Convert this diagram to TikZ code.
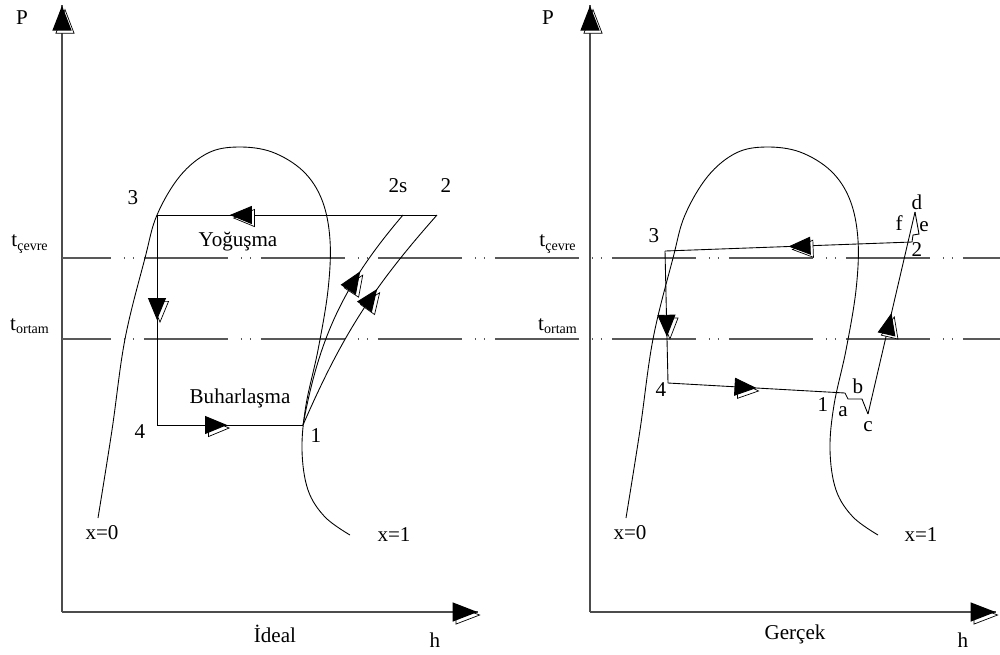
\documentclass[tikz,border=0pt]{standalone}
\usepackage{fontspec}
\setmainfont{Liberation Serif}
\usetikzlibrary{arrows.meta,decorations.markings}
\tikzset{
  tipmark/.style 2 args={
    postaction={decorate, decoration={markings,
      mark=at position #1 with {\begin{scope}[transform canvas={shift={(3,3)}}]
        \arrow{Triangle[open, color=black, fill=white, line width=0.4pt, #2]}\end{scope}}}},
    postaction={decorate, decoration={markings,
      mark=at position #1 with {\arrow{Triangle[color=black, #2]}}}}},
  flowtip/.style={tipmark={#1}{length=4.4mm,width=3.6mm}},
  axis/.style={draw=black!70, line width=0.8pt, tipmark={0.999}{length=5mm,width=3.8mm}},
  sat/.style={draw=black, line width=0.5pt},
  proc/.style={draw=black, line width=0.5pt},
  tline/.style={draw=black!65, line width=0.9pt,
    dash pattern=on 16.8mm off 2.6mm on 0.2mm off 1.6mm on 0.2mm off 2mm, dash phase=7mm},
  lbl/.style={font=\fontsize{12}{14}\selectfont, inner sep=0pt},
}

\begin{document}
\begin{tikzpicture}[x=0.02cm, y=-0.02cm]
\useasboundingbox (0,0) rectangle (1000,654);
% axes
\coordinate (LO) at (62,612);   \coordinate (LP) at (62,5);   \coordinate (Lh) at (478,612);
\coordinate (RO) at (590,612);  \coordinate (RP) at (590,5);  \coordinate (Rh) at (996,612);
\draw[axis] (LO) -- (LP);
\draw[axis] (LO) -- (Lh);
\draw[axis] (RO) -- (RP);
\draw[axis] (RO) -- (Rh);
% temperature lines
\coordinate (tc0) at (62,258);  \coordinate (tc1) at (1000,258);
\coordinate (to0) at (62,339);  \coordinate (to1) at (1000,339);
\draw[tline] (tc0) -- (tc1);
\draw[tline] (to0) -- (to1);
% saturation domes
\foreach \dx in {0,528}
  \draw[sat, shift={(\dx,0)}] plot[smooth, tension=0.6] coordinates {
    (98,518) (112,430) (125,339) (145,258) (157,215) (180,176) (208,153) (238,147)
    (272,152) (303,171) (322,200) (330,240) (328,290) (318,350) (306,405)
    (302,450) (308,490) (325,517) (350,535)};
% ideal cycle
\coordinate (L3) at (157,215);
\coordinate (L2s) at (403,215);
\coordinate (L2) at (437,215);
\coordinate (L4) at (157,425);
\coordinate (L1) at (303,425);
\draw[proc, flowtip=0.74] (L2) -- (L3);
\draw[proc, flowtip=0.5] (L3) -- (L4);
\draw[proc, flowtip=0.48] (L4) -- (L1);
\draw[proc, flowtip=0.7] (L1) to[bend left=15] (L2s);
\draw[proc, flowtip=0.62] (L1) to[bend left=9] (L2);
% real cycle
\coordinate (R3) at (665,251);
\coordinate (R4) at (668,383);
\coordinate (R1) at (845,393);
\coordinate (Ra) at (848,399);
\coordinate (Rb) at (862,399);
\coordinate (Rc) at (868,414);
\coordinate (Rd) at (915,212);
\coordinate (Re) at (919,234);
\coordinate (Rf) at (913,235);
\coordinate (R2) at (912,242);
\draw[proc, flowtip=0.5] (R2) -- (R3);
\draw[proc, flowtip=0.65] (R3) -- (R4);
\draw[proc, flowtip=0.5] (R4) -- (R1);
\draw[proc] (R1) -- (Ra) -- (Rb) -- (Rc);
\draw[proc, flowtip=0.5] (Rc) -- (Rd);
\draw[proc] (Rd) -- (Re) -- (Rf) -- (R2);
% labels, left
\node[lbl] (lP) at (22,18) {P};
\node[lbl] (ltc) at (30,244) {t\textsubscript{çevre}};
\node[lbl] (lto) at (30,326) {t\textsubscript{ortam}};
\node[lbl] (l3) at (133,198) {3};
\node[lbl] (l2s) at (398,186) {2s};
\node[lbl] (l2) at (446,186) {2};
\node[lbl] (lyog) at (238,242) {Yoğuşma};
\node[lbl] (lbuh) at (240,398) {Buharlaşma};
\node[lbl] (l4) at (140,432) {4};
\node[lbl] (l1) at (316,436) {1};
\node[lbl] (lx0) at (102,533) {x=0};
\node[lbl] (lx1) at (394,535) {x=1};
\node[lbl] (lid) at (275,634) {İdeal};
\node[lbl] (lh) at (435,640) {h};
% labels, right
\node[lbl] (rP) at (548,18) {P};
\node[lbl] (rtc) at (558,244) {t\textsubscript{çevre}};
\node[lbl] (rto) at (558,326) {t\textsubscript{ortam}};
\node[lbl] (r3) at (654,236) {3};
\node[lbl] (r4) at (661,390) {4};
\node[lbl] (r1) at (823,405) {1};
\node[lbl] (ra) at (843,412) {a};
\node[lbl] (rb) at (858,386) {b};
\node[lbl] (rc) at (868,427) {c};
\node[lbl] (rd) at (917,202) {d};
\node[lbl] (rf) at (899,223) {f};
\node[lbl] (re) at (924,227) {e};
\node[lbl] (r2) at (917,250) {2};
\node[lbl] (rx0) at (630,533) {x=0};
\node[lbl] (rx1) at (921,535) {x=1};
\node[lbl] (rge) at (795,634) {Gerçek};
\node[lbl] (rh) at (963,640) {h};
\end{tikzpicture}
\end{document}
